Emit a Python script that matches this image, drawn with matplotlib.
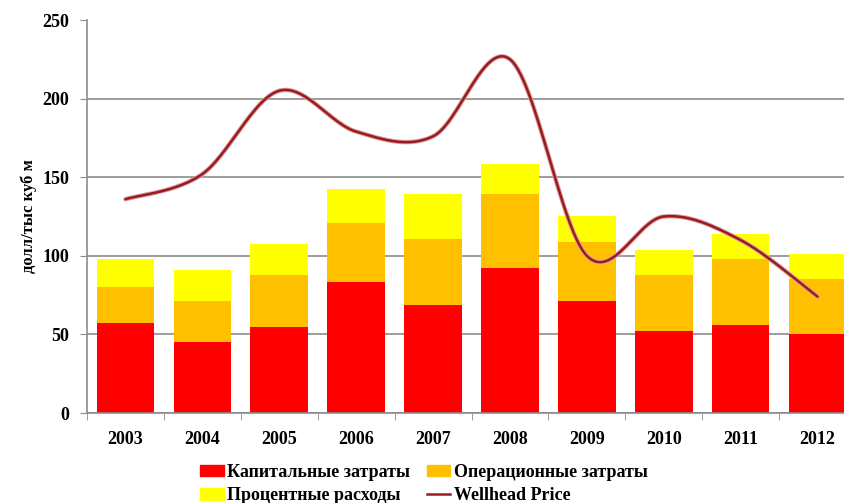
import numpy as np
import matplotlib
matplotlib.use('Agg')
import matplotlib.pyplot as plt
from matplotlib.patches import Patch
from matplotlib.lines import Line2D

years = ['2003', '2004', '2005', '2006', '2007', '2008', '2009', '2010', '2011', '2012']
# капитальные / операционные / процентные (накопленно по стопке)
capex = [57, 45, 55, 83.5, 69, 92.5, 71, 52, 56, 50]
opex = [23, 26, 33, 37.5, 41.5, 47, 38, 36, 42, 35]
interest = [18, 20, 19.5, 21.5, 29, 19, 16.5, 16, 16, 16]
price = [136, 152, 205, 179, 176, 225, 100, 125, 110, 74]

c_red = '#FF0000'
c_orange = '#FFC000'
c_yellow = '#FFFF00'
c_line = '#9B1B1F'
grid_c = '#8C8C8C'

plt.rcParams['font.family'] = ['Liberation Serif', 'DejaVu Serif']
plt.rcParams['font.weight'] = 'bold'


def smooth(xs, ys, n=30):
    # сглаживание как в Excel: Catmull-Rom через кривые Безье
    xs = np.asarray(xs, float)
    ys = np.asarray(ys, float)
    px = np.concatenate([[xs[0]], xs, [xs[-1]]])
    py = np.concatenate([[ys[0]], ys, [ys[-1]]])
    ox, oy = [], []
    t = np.linspace(0, 1, n)
    for i in range(1, len(px) - 2):
        p0 = np.array([px[i], py[i]])
        p3 = np.array([px[i + 1], py[i + 1]])
        p1 = p0 + (np.array([px[i + 1], py[i + 1]]) - np.array([px[i - 1], py[i - 1]])) / 6
        p2 = p3 - (np.array([px[i + 2], py[i + 2]]) - np.array([px[i], py[i]])) / 6
        b = ((1 - t) ** 3)[:, None] * p0 + (3 * (1 - t) ** 2 * t)[:, None] * p1 \
            + (3 * (1 - t) * t ** 2)[:, None] * p2 + (t ** 3)[:, None] * p3
        ox.extend(b[:, 0])
        oy.extend(b[:, 1])
    return ox, oy


fig = plt.figure(figsize=(8.44, 5.03), dpi=100)
ax = fig.add_axes([87 / 844, 90 / 503, 769 / 844, 393 / 503])

x = np.arange(len(years))
w = 0.75
capex = np.array(capex)
opex = np.array(opex)
interest = np.array(interest)
ax.bar(x, capex, w, color=c_red, zorder=2)
ax.bar(x, opex, w, bottom=capex, color=c_orange, zorder=2)
ax.bar(x, interest, w, bottom=capex + opex, color=c_yellow, zorder=2)

sx, sy = smooth(x, price)
ax.plot(sx, sy, color='#D9A0A0', lw=3.2, zorder=3, solid_capstyle='round')
ax.plot(sx, sy, color=c_line, lw=1.8, zorder=4, solid_capstyle='round')

ax.set_xlim(-0.5, 9.5)
ax.set_ylim(0, 250)
ax.set_yticks([0, 50, 100, 150, 200, 250])
ax.set_xticks(x)
ax.set_xticklabels(years)
ax.set_xticks(np.arange(-0.5, 10, 1), minor=True)
ax.tick_params(axis='x', which='major', length=0, pad=13, labelsize=13)
ax.tick_params(axis='x', which='minor', length=5, color=grid_c, direction='out')
ax.tick_params(axis='y', length=5, color=grid_c, pad=8, labelsize=13)

ax.grid(axis='y', color=grid_c, lw=1.2, zorder=1)
ax.yaxis.get_gridlines()[-1].set_visible(False)
for s in ['top', 'right']:
    ax.spines[s].set_visible(False)
for s in ['left', 'bottom']:
    ax.spines[s].set_color(grid_c)
    ax.spines[s].set_linewidth(1.2)

ax.set_ylabel('долл/тыс куб м', fontsize=12, fontweight='bold', labelpad=4)

# порядок для заполнения по столбцам, чтобы строки шли как в оригинале
handles = [Patch(color=c_red), Patch(color=c_yellow),
           Patch(color=c_orange), Line2D([], [], color=c_line, lw=1.8)]
labels = ['Капитальные затраты', 'Процентные расходы',
          'Операционные затраты', 'Wellhead Price']
fig.legend(handles, labels, loc='lower left', bbox_to_anchor=(184 / 844, -0.035),
           ncol=2, frameon=False, fontsize=13, handlelength=1.3, handleheight=0.6,
           handletextpad=0.2, columnspacing=0.9, labelspacing=0.35)

fig.savefig('out.png', dpi=100)
